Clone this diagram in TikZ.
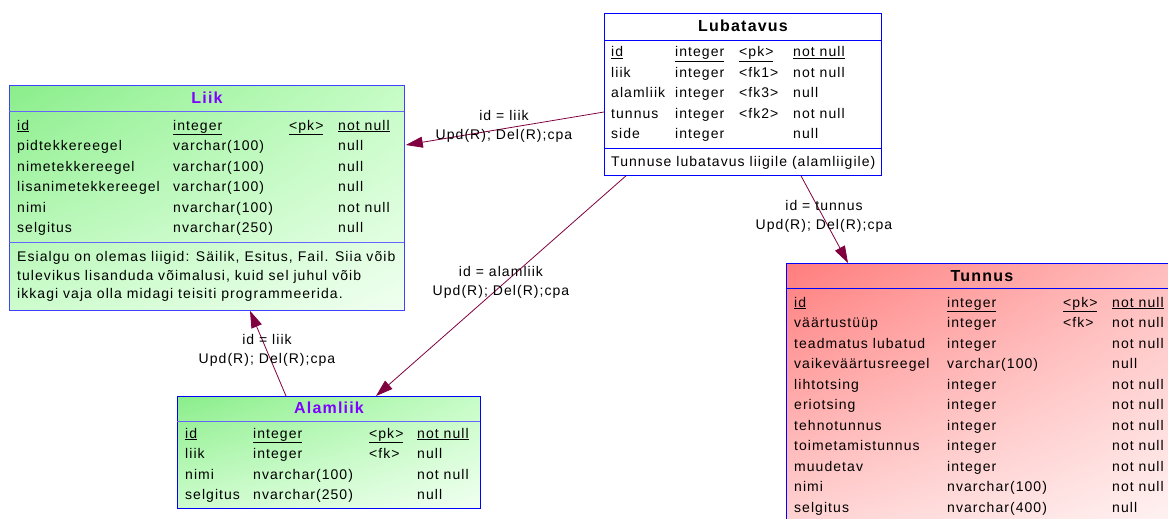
\documentclass[tikz,border=0pt]{standalone}
\usepackage{fontspec}
\setmainfont{Liberation Sans}[LetterSpace=7.5]
\usetikzlibrary{arrows.meta,calc,shadings}
\definecolor{relcol}{RGB}{128,0,64}
\definecolor{ttlpurple}{RGB}{128,0,255}
\definecolor{gA}{RGB}{138,238,138}
\definecolor{gB}{RGB}{198,252,198}
\definecolor{gC}{RGB}{205,252,205}
\definecolor{gD}{RGB}{240,255,240}
\definecolor{rA}{RGB}{255,125,125}
\definecolor{rB}{RGB}{255,190,190}
\definecolor{rC}{RGB}{255,215,215}
\definecolor{rD}{RGB}{255,245,245}
\begin{document}
\begin{tikzpicture}[x=1pt,y=-1pt,
  tbl/.style={draw=blue,line width=0.8pt,anchor=north west,inner sep=0pt},
  ttl/.style={font=\fontsize{16}{18}\selectfont\bfseries,inner sep=0pt},
  cell/.style={font=\fontsize{14}{19}\selectfont,anchor=west,inner sep=0pt,text height=10pt,text depth=0pt},
  rel/.style={draw=relcol,line width=0.8pt,-{Triangle[length=17pt,width=11pt]}},
  lbl/.style={font=\fontsize{14}{19}\selectfont,align=center,inner sep=0pt}]
\clip (0,0) rectangle (1168,519);
\fill[white] (0,0) rectangle (1168,519);
% Lubatavus
\node[tbl,fill=white,minimum width=277pt,minimum height=162pt] (lub) at (604,13) {};
\node[ttl] (lubT) at (743,26) {Lubatavus};
\draw[blue] (604,40)--(881,40);
\draw[blue] (604,148)--(881,148);
\foreach \n/\t/\k/\c [count=\i] in {{\underline{id}}/{\underline{integer}}/{\underline{<pk>}}/{\underline{not null}},
  liik/integer/<fk1>/not null,alamliik/integer/<fk3>/null,tunnus/integer/<fk2>/not null,side/integer/{}/null}
{
\node[cell] (lubN\i) at (611,52+20.4*\i-20.4) {\n};
\node[cell] (lubY\i) at (675,52+20.4*\i-20.4) {\t};
\node[cell] (lubK\i) at (739,52+20.4*\i-20.4) {\k};
\node[cell] (lubC\i) at (793,52+20.4*\i-20.4) {\c};
}
\node[cell] (lubX) at (611,161) {Tunnuse lubatavus liigile (alamliigile)};
% Liik
\node[tbl,draw=blue!75,upper left=gA,upper right=gB,lower left=gC,lower right=gD,minimum width=395pt,minimum height=225pt] (liik) at (9,85) {};
\node[ttl,text=ttlpurple] (liikT) at (207,98) {Liik};
\draw[blue!60] (9,111.5)--(404,111.5);
\draw[blue!60] (9,242)--(404,242);
\foreach \n/\t/\k/\c [count=\i] in {{\underline{id}}/{\underline{integer}}/{\underline{<pk>}}/{\underline{not null}},
  pidtekkereegel/varchar(100)/{}/null,nimetekkereegel/varchar(100)/{}/null,
  lisanimetekkereegel/varchar(100)/{}/null,nimi/nvarchar(100)/{}/not null,selgitus/nvarchar(250)/{}/null}
{
\node[cell] (liikN\i) at (17,125+20.5*\i-20.5) {\n};
\node[cell] (liikY\i) at (173,125+20.5*\i-20.5) {\t};
\node[cell] (liikK\i) at (289,125+20.5*\i-20.5) {\k};
\node[cell] (liikC\i) at (338,125+20.5*\i-20.5) {\c};
}
\node[cell] (liikX1) at (17,256) {Esialgu on olemas liigid: Säilik, Esitus, Fail. Siia võib};
\node[cell] (liikX2) at (17,275) {tulevikus lisanduda võimalusi, kuid sel juhul võib};
\node[cell] (liikX3) at (17,293) {ikkagi vaja olla midagi teisiti programmeerida.};
% Alamliik
\node[tbl,upper left=gA,upper right=gB,lower left=gC,lower right=gD,minimum width=303pt,minimum height=112pt] (alam) at (177,396) {};
\node[ttl,text=ttlpurple] (alamT) at (329,408) {Alamliik};
\draw[blue!60] (177,421)--(480,421);
\foreach \n/\t/\k/\c [count=\i] in {{\underline{id}}/{\underline{integer}}/{\underline{<pk>}}/{\underline{not null}},
  liik/integer/<fk>/null,nimi/nvarchar(100)/{}/not null,selgitus/nvarchar(250)/{}/null}
{
\node[cell] (alamN\i) at (185,433+20.6*\i-20.6) {\n};
\node[cell] (alamY\i) at (253,433+20.6*\i-20.6) {\t};
\node[cell] (alamK\i) at (369,433+20.6*\i-20.6) {\k};
\node[cell] (alamC\i) at (417,433+20.6*\i-20.6) {\c};
}
% Tunnus
\node[tbl,upper left=rA,upper right=rB,lower left=rC,lower right=rD,minimum width=392pt,minimum height=270pt] (tun) at (786,263) {};
\node[ttl] (tunT) at (982,276) {Tunnus};
\draw[blue] (786,288)--(1178,288);
\foreach \n/\t/\k/\c [count=\i] in {{\underline{id}}/{\underline{integer}}/{\underline{<pk>}}/{\underline{not null}},
  väärtustüüp/integer/<fk>/not null,teadmatus lubatud/integer/{}/not null,
  vaikeväärtusreegel/varchar(100)/{}/null,lihtotsing/integer/{}/not null,eriotsing/integer/{}/not null,
  tehnotunnus/integer/{}/not null,toimetamistunnus/integer/{}/not null,muudetav/integer/{}/not null,
  nimi/nvarchar(100)/{}/not null,selgitus/nvarchar(400)/{}/null}
{
\node[cell] (tunN\i) at (794,302+20.55*\i-20.55) {\n};
\node[cell] (tunY\i) at (947,302+20.55*\i-20.55) {\t};
\node[cell] (tunK\i) at (1063,302+20.55*\i-20.55) {\k};
\node[cell] (tunC\i) at (1112,302+20.55*\i-20.55) {\c};
}
% seosed
\coordinate (r1a) at ($(lub.north west)+(0,99)$);
\coordinate (r1b) at ($(liik.north east)+(1,60)$);
\coordinate (r2a) at ($(lub.south west)+(22,0)$);
\coordinate (r2b) at ($(alam.north west)+(199,0)$);
\coordinate (r3a) at ($(lub.south west)+(197,0)$);
\coordinate (r3b) at ($(tun.north west)+(62,0)$);
\coordinate (r4a) at ($(alam.north west)+(109,0)$);
\coordinate (r4b) at ($(liik.south west)+(241,0)$);
\draw[rel] (r1a)--(r1b);
\draw[rel] (r2a)--(r2b);
\draw[rel] (r3a)--(r3b);
\draw[rel] (r4a)--(r4b);
\node[lbl] (r1L) at (504,126) {id = liik\\Upd(R); Del(R);cpa};
\node[lbl] (r2L) at (501,282) {id = alamliik\\Upd(R); Del(R);cpa};
\node[lbl] (r3L) at (824,216) {id = tunnus\\Upd(R); Del(R);cpa};
\node[lbl] (r4L) at (267,350) {id = liik\\Upd(R); Del(R);cpa};
\end{tikzpicture}
\end{document}
